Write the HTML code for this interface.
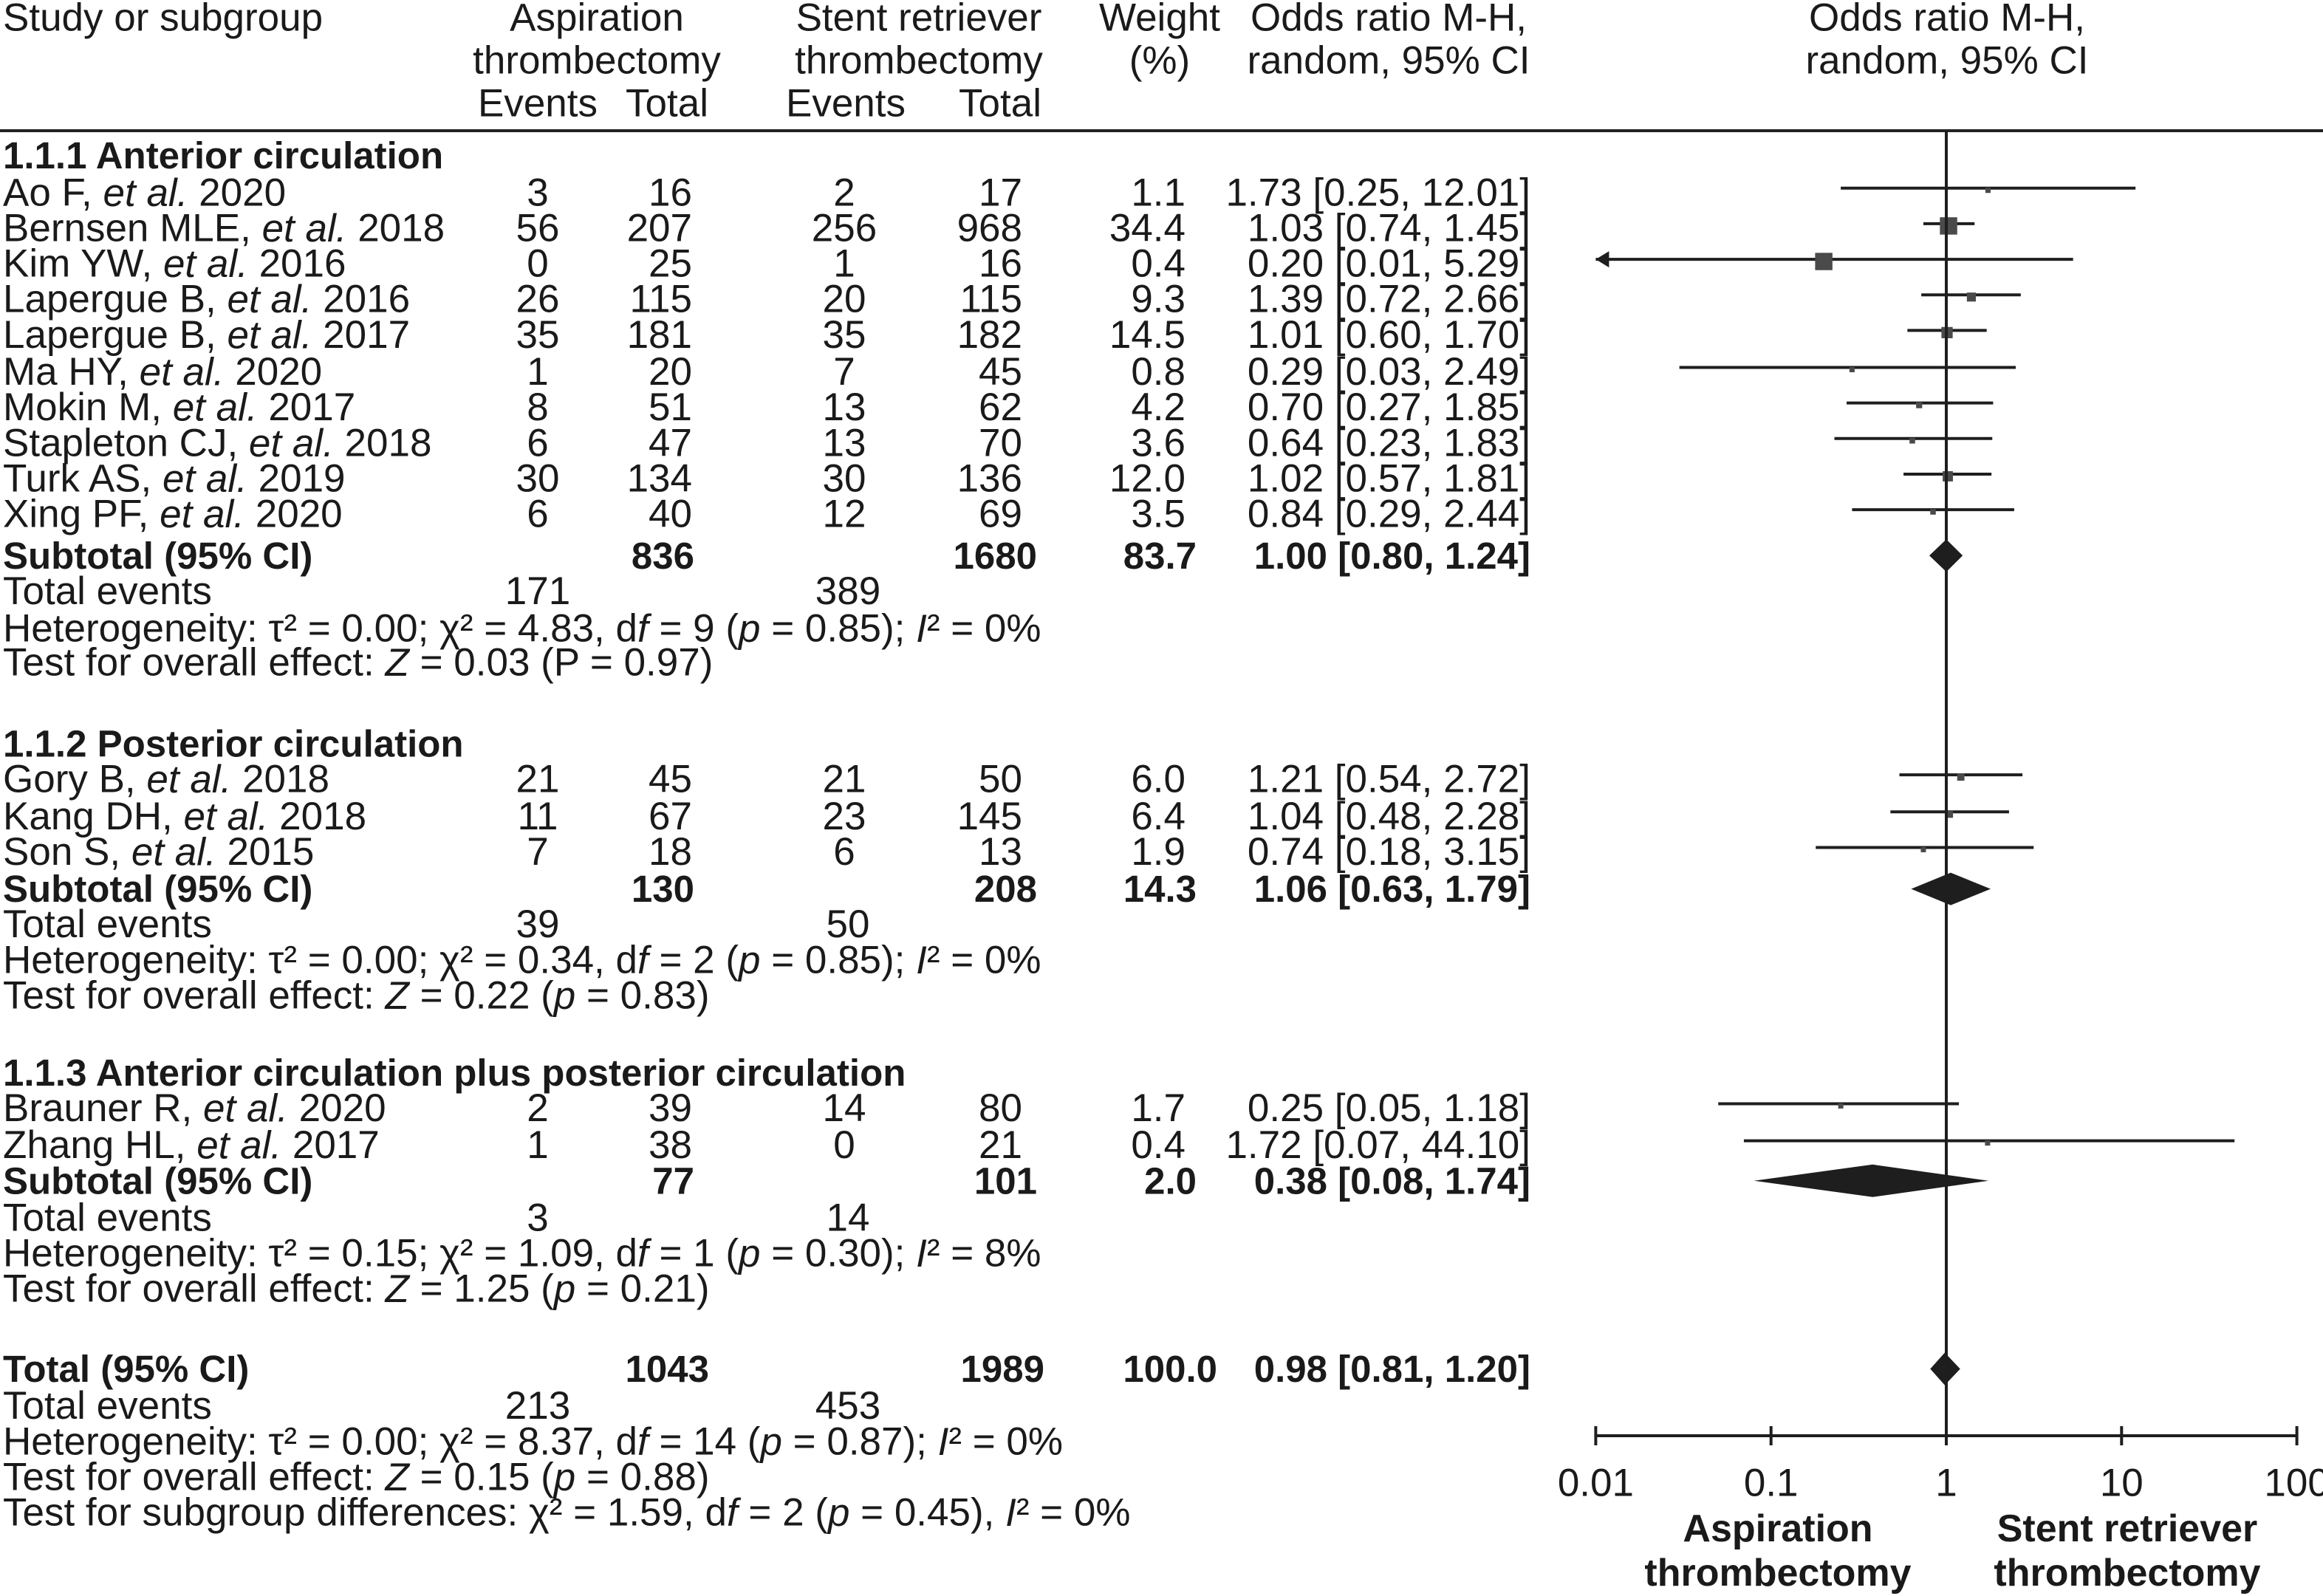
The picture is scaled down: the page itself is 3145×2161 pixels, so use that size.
<!DOCTYPE html>
<html><head><meta charset="utf-8">
<style>
html,body{margin:0;padding:0;background:#fff;}
svg{display:block;font-family:"Liberation Sans",sans-serif;}
text{fill:#1a1a1a;font-size:53px;dominant-baseline:central;}
.b{font-weight:bold;font-size:51px;}
</style></head>
<body>
<svg id="chart" width="3145" height="2161" viewBox="0 0 3145 2161" xmlns="http://www.w3.org/2000/svg">
<g>
<text x="4" y="24">Study or subgroup</text>
<text x="808" y="24" text-anchor="middle">Aspiration</text>
<text x="808" y="82" text-anchor="middle">thrombectomy</text>
<text x="728" y="140" text-anchor="middle">Events</text>
<text x="903" y="140" text-anchor="middle">Total</text>
<text x="1244" y="24" text-anchor="middle">Stent retriever</text>
<text x="1244" y="82" text-anchor="middle">thrombectomy</text>
<text x="1145" y="140" text-anchor="middle">Events</text>
<text x="1354" y="140" text-anchor="middle">Total</text>
<text x="1570" y="24" text-anchor="middle">Weight</text>
<text x="1570" y="82" text-anchor="middle">(%)</text>
<text x="1880" y="24" text-anchor="middle">Odds ratio M-H,</text>
<text x="1880" y="82" text-anchor="middle">random, 95% CI</text>
<text x="2636" y="24" text-anchor="middle">Odds ratio M-H,</text>
<text x="2636" y="82" text-anchor="middle">random, 95% CI</text>
</g>
<line x1="0" y1="177" x2="3145" y2="177" stroke="#222" stroke-width="4"/>
<g id="textrows"></g>
<g id="plot"></g>
<g>
<text x="4" y="851">Heterogeneity: τ² = 0.00; χ² = 4.83, d<tspan font-style="italic">f</tspan> = 9 (<tspan font-style="italic">p</tspan> = 0.85); <tspan font-style="italic">I</tspan>² = 0%</text>
<text x="4" y="897">Test for overall effect: <tspan font-style="italic">Z</tspan> = 0.03 (P = 0.97)</text>
<text x="4" y="1300">Heterogeneity: τ² = 0.00; χ² = 0.34, d<tspan font-style="italic">f</tspan> = 2 (<tspan font-style="italic">p</tspan> = 0.85); <tspan font-style="italic">I</tspan>² = 0%</text>
<text x="4" y="1348">Test for overall effect: <tspan font-style="italic">Z</tspan> = 0.22 (<tspan font-style="italic">p</tspan> = 0.83)</text>
<text x="4" y="1697">Heterogeneity: τ² = 0.15; χ² = 1.09, d<tspan font-style="italic">f</tspan> = 1 (<tspan font-style="italic">p</tspan> = 0.30); <tspan font-style="italic">I</tspan>² = 8%</text>
<text x="4" y="1745">Test for overall effect: <tspan font-style="italic">Z</tspan> = 1.25 (<tspan font-style="italic">p</tspan> = 0.21)</text>
<text x="4" y="1952">Heterogeneity: τ² = 0.00; χ² = 8.37, d<tspan font-style="italic">f</tspan> = 14 (<tspan font-style="italic">p</tspan> = 0.87); <tspan font-style="italic">I</tspan>² = 0%</text>
<text x="4" y="2000">Test for overall effect: <tspan font-style="italic">Z</tspan> = 0.15 (<tspan font-style="italic">p</tspan> = 0.88)</text>
<text x="4" y="2048">Test for subgroup differences: χ² = 1.59, d<tspan font-style="italic">f</tspan> = 2 (<tspan font-style="italic">p</tspan> = 0.45), <tspan font-style="italic">I</tspan>² = 0%</text>
</g>
<text x="2407" y="2070" text-anchor="middle" class="b" style="font-size:52px">Aspiration</text>
<text x="2407" y="2130" text-anchor="middle" class="b" style="font-size:52px">thrombectomy</text>
<text x="2880" y="2070" text-anchor="middle" class="b" style="font-size:52px">Stent retriever</text>
<text x="2880" y="2130" text-anchor="middle" class="b" style="font-size:52px">thrombectomy</text>
</svg>
<script>
// ---- data ----
const authors = ["Ao F,","Bernsen MLE,","Kim YW,","Lapergue B,","Lapergue B,","Ma HY,","Mokin M,","Stapleton CJ,","Turk AS,","Xing PF,","Gory B,","Kang DH,","Son S,","Brauner R,","Zhang HL,"];
const years = [2020,2018,2016,2016,2017,2020,2017,2018,2019,2020,2018,2018,2015,2020,2017];
const events1 = [3,56,0,26,35,1,8,6,30,6,21,11,7,2,1];
const total1 = [16,207,25,115,181,20,51,47,134,40,45,67,18,39,38];
const events2 = [2,256,1,20,35,7,13,13,30,12,21,23,6,14,0];
const total2 = [17,968,16,115,182,45,62,70,136,69,50,145,13,80,21];
const weights = [1.1,34.4,0.4,9.3,14.5,0.8,4.2,3.6,12.0,3.5,6.0,6.4,1.9,1.7,0.4];
const boxWeights = [1.1,34.4,34.4,9.3,14.5,0.8,4.2,3.6,12.0,3.5,6.0,6.4,1.9,1.7,0.4];
const orEst = [1.73,1.03,0.20,1.39,1.01,0.29,0.70,0.64,1.02,0.84,1.21,1.04,0.74,0.25,1.72];
const orLo = [0.25,0.74,0.01,0.72,0.60,0.03,0.27,0.23,0.57,0.29,0.54,0.48,0.18,0.05,0.07];
const orHi = [12.01,1.45,5.29,2.66,1.70,2.49,1.85,1.83,1.81,2.44,2.72,2.28,3.15,1.18,44.10];
const groupNames = ["1.1.1 Anterior circulation","1.1.2 Posterior circulation","1.1.3 Anterior circulation plus posterior circulation"];
const groupSizes = [10,3,2];
const subTotal1 = [836,130,77];
const subTotal2 = [1680,208,101];
const subEvents1 = [171,39,3];
const subEvents2 = [389,50,14];
const subWeight = [83.7,14.3,2.0];
const subEst = [1.00,1.06,0.38];
const subLo = [0.80,0.63,0.08];
const subHi = [1.24,1.79,1.74];
const overallTotals = [1043,1989];
const overallEvents = [213,453];
const overallWeight = [100.0];
const overallOR = [0.98,0.81,1.20];
const tickValues = [0.01,0.1,1,10,100];
const tickLabels = ["0.01","0.1","1","10","100"];

// ---- layout ----
const NS = "http://www.w3.org/2000/svg";
const S = 2.006;
const X0 = 2635, DEC = 237.3;
function xs(v){ return X0 + DEC*Math.log10(v); }
const studyY = [130,154,178,202,226,251,275,299,323,347,526,551,575,748,773].map(d=>d*S);
const headY = [105,502,724].map(d=>d*S);
const subY = [375,600,797].map(d=>d*S);
const subEvY = [399,624,822].map(d=>d*S);
const totY = 924*S, totEvY = 949*S;
const rowsG = document.getElementById('textrows');
const plotG = document.getElementById('plot');

function mk(tag, parent, attrs){
  const el = document.createElementNS(NS, tag);
  for (const k in attrs) el.setAttribute(k, attrs[k]);
  parent.appendChild(el);
  return el;
}
function txt(x,y,s,anchor,bold,name){
  const el = mk('text', rowsG, {x:x, y:y, 'text-anchor':anchor});
  if (bold) el.setAttribute('class','b');
  el.textContent = s;
  
  
  return el;
}
const f2 = v => v.toFixed(2);
const orStr = (e,l,h) => f2(e)+" ["+f2(l)+", "+f2(h)+"]";

for (let i=0;i<authors.length;i++){
  const y = studyY[i];
  const t = mk('text', rowsG, {x:4, y:y});
  
  
  t.appendChild(document.createTextNode(authors[i]+" "));
  const it = mk('tspan', t, {'font-style':'italic'}); it.textContent = "et al.";
  t.appendChild(document.createTextNode(" "+years[i]));
  txt(728,y,String(events1[i]),'middle',false,'aspiration-events');
  txt(937,y,String(total1[i]),'end',false,'aspiration-total');
  txt(1143,y,String(events2[i]),'middle',false,'stent-events');
  txt(1384,y,String(total2[i]),'end',false,'stent-total');
  txt(1605,y,weights[i].toFixed(1),'end',false,'weight');
  txt(2072,y,orStr(orEst[i],orLo[i],orHi[i]),'end',false,'odds-ratio-text');

  const ly = y - 6;
  const lo = Math.max(orLo[i], 0.01);
  const ln = mk('line', plotG, {x1:xs(lo), y1:ly, x2:xs(orHi[i]), y2:ly, stroke:'#1e1e1e', 'stroke-width':4});
  
  
  if (orLo[i] <= 0.01){
    const ax = xs(0.01);
    const ar = mk('polygon', plotG, {points:`${ax},${ly} ${ax+18},${ly-11} ${ax+18},${ly+11}`, fill:'#1e1e1e'});
    
    
  }
  const sz = Math.max(7, 4*Math.sqrt(boxWeights[i]));
  const bx = mk('rect', plotG, {x:xs(orEst[i])-sz/2, y:ly-sz/2+3, width:sz, height:sz, fill:'#4a4a4a'});
  
  
}

for (let g=0; g<groupNames.length; g++){
  txt(4, headY[g], groupNames[g], 'start', true, 'subgroup-heading');
  txt(4, subY[g], "Subtotal (95% CI)", 'start', true, 'subtotal-label');
  txt(940, subY[g], String(subTotal1[g]), 'end', true, 'subtotal-aspiration');
  txt(1404, subY[g], String(subTotal2[g]), 'end', true, 'subtotal-stent');
  txt(1620, subY[g], subWeight[g].toFixed(1), 'end', true, 'subtotal-weight');
  txt(2072, subY[g], orStr(subEst[g],subLo[g],subHi[g]), 'end', true, 'subtotal-or-text');
  txt(4, subEvY[g], "Total events", 'start', false, 'total-events-label');
  txt(728, subEvY[g], String(subEvents1[g]), 'middle', false, 'total-events-aspiration');
  txt(1148, subEvY[g], String(subEvents2[g]), 'middle', false, 'total-events-stent');
  const y = subY[g];
  const d = mk('polygon', plotG, {points:`${xs(subLo[g])},${y} ${xs(subEst[g])},${y-22} ${xs(subHi[g])},${y} ${xs(subEst[g])},${y+22}`, fill:'#1e1e1e'});
  
  
}

txt(4, totY, "Total (95% CI)", 'start', true, 'total-label');
txt(960, totY, String(overallTotals[0]), 'end', true, 'total-aspiration');
txt(1414, totY, String(overallTotals[1]), 'end', true, 'total-stent');
txt(1648, totY, overallWeight[0].toFixed(1), 'end', true, 'total-weight');
txt(2072, totY, orStr(overallOR[0],overallOR[1],overallOR[2]), 'end', true, 'total-or-text');
txt(4, totEvY, "Total events", 'start', false, 'total-events-label');
txt(728, totEvY, String(overallEvents[0]), 'middle', false, 'total-events-aspiration');
txt(1148, totEvY, String(overallEvents[1]), 'middle', false, 'total-events-stent');
{
  const y = totY;
  const d = mk('polygon', plotG, {points:`${xs(overallOR[1])},${y} ${xs(overallOR[0])},${y-22} ${xs(overallOR[2])},${y} ${xs(overallOR[0])},${y+22}`, fill:'#1e1e1e'});
  
  
}

const axisY = 1944;
const vl = mk('line', plotG, {x1:xs(1), y1:177, x2:xs(1), y2:axisY, stroke:'#1e1e1e', 'stroke-width':4});


const ax = mk('line', plotG, {x1:xs(tickValues[0]), y1:axisY, x2:xs(tickValues[tickValues.length-1]), y2:axisY, stroke:'#1e1e1e', 'stroke-width':4});


for (let i=0;i<tickValues.length;i++){
  const x = xs(tickValues[i]);
  const tk = mk('line', plotG, {x1:x, y1:axisY-13, x2:x, y2:axisY+13, stroke:'#1e1e1e', 'stroke-width':4});
  
  
  const tl = mk('text', plotG, {x:x, y:2008, 'text-anchor':'middle'});
  tl.textContent = tickLabels[i];
  
  
}
</script>
</body></html>
